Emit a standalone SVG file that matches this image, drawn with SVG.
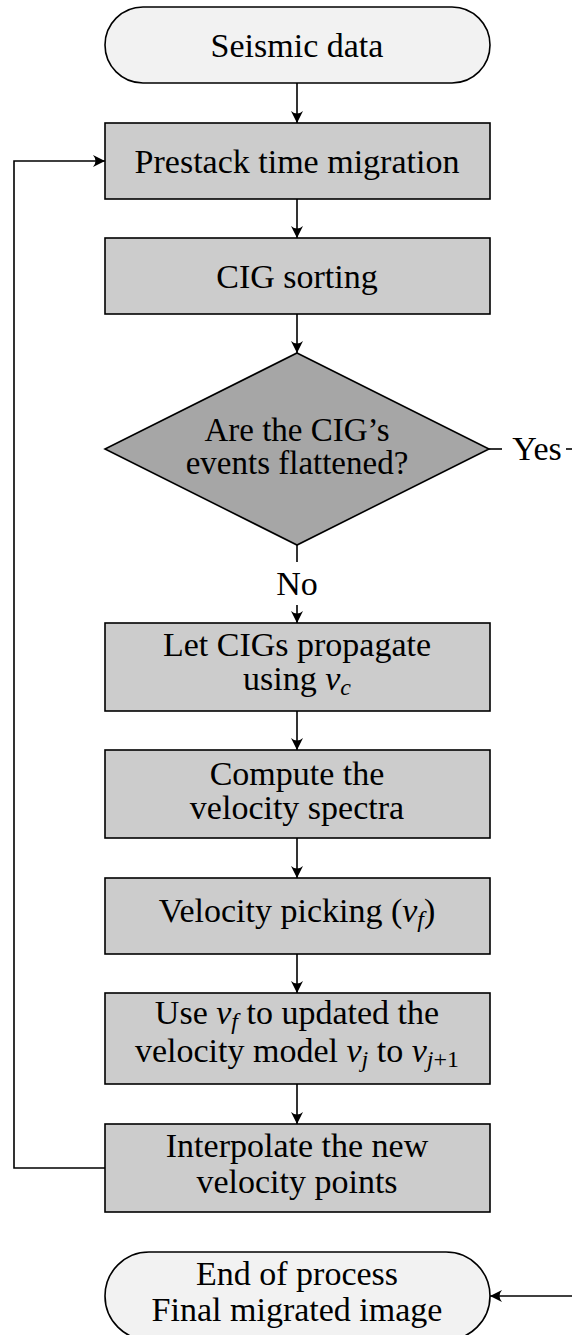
<svg xmlns="http://www.w3.org/2000/svg" width="572" height="1335" viewBox="0 0 572 1335">
<style>
.term{fill:#f2f2f2;stroke:#000;stroke-width:1.6}
.box{fill:#cccccc;stroke:#000;stroke-width:1.6}
.dec{fill:#a6a6a6;stroke:#000;stroke-width:1.6}
text{font-family:"Liberation Serif","DejaVu Serif",serif;font-size:34px;fill:#000;text-anchor:middle}
.m{font-style:italic}
.s{font-size:24px}
.sm{font-size:24px;font-style:italic}
.c{fill:none;stroke:#000;stroke-width:1.6}
</style>
<defs>
<marker id="ah" viewBox="-13 -6.5 14 13" refX="0" refY="0" markerWidth="14" markerHeight="13" markerUnits="userSpaceOnUse" orient="auto">
<path d="M0,0 L-12,-6 Q-7,0 -12,6 Z" fill="#000"/>
</marker>
</defs>
<g id="connectors">
<path class="c" d="M297,83 V123" marker-end="url(#ah)"/>
<path class="c" d="M297,199 V238" marker-end="url(#ah)"/>
<path class="c" d="M297,314 V353" marker-end="url(#ah)"/>
<path class="c" d="M297,545 V562"/>
<path class="c" d="M297,605 V623" marker-end="url(#ah)"/>
<path class="c" d="M297,711 V750" marker-end="url(#ah)"/>
<path class="c" d="M297,838 V878" marker-end="url(#ah)"/>
<path class="c" d="M297,954 V993" marker-end="url(#ah)"/>
<path class="c" d="M297,1084 V1124" marker-end="url(#ah)"/>
<path class="c" d="M105,1168 H14 V161 H105" marker-end="url(#ah)"/>
<path class="c" d="M489,449 H502"/>
<path class="c" d="M566,449 H580"/>
<path class="c" d="M580,1296 H490" marker-end="url(#ah)"/>
<text x="537" y="460">Yes</text>
<text x="297" y="595">No</text>
</g>
<g id="start">
<rect class="term" x="105" y="7" width="385" height="76" rx="38"/>
<text x="297" y="57">Seismic data</text>
</g>
<g id="prestack">
<rect class="box" x="105" y="123" width="385" height="76"/>
<text x="297" y="173">Prestack time migration</text>
</g>
<g id="cigsort">
<rect class="box" x="105" y="238" width="385" height="76"/>
<text x="297" y="288">CIG sorting</text>
</g>
<g id="decision">
<polygon class="dec" points="297,353 489,449 297,545 105,449"/>
<text x="297" y="441" style="font-size:33px">Are the CIG’s<tspan x="297" dy="33">events flattened?</tspan></text>
</g>
<g id="propagate">
<rect class="box" x="105" y="623" width="385" height="88"/>
<text x="297" y="656">Let CIGs propagate<tspan x="297" dy="34">using </tspan><tspan class="m">v</tspan><tspan class="sm" dy="5">c</tspan></text>
</g>
<g id="spectra">
<rect class="box" x="105" y="750" width="385" height="88"/>
<text x="297" y="785">Compute the<tspan x="297" dy="34">velocity spectra</tspan></text>
</g>
<g id="picking">
<rect class="box" x="105" y="878" width="385" height="76"/>
<text x="297" y="922">Velocity picking (<tspan class="m">v</tspan><tspan class="sm" dy="5">f</tspan><tspan dy="-5">)</tspan></text>
</g>
<g id="update">
<rect class="box" x="105" y="993" width="385" height="91"/>
<text x="297" y="1024">Use <tspan class="m">v</tspan><tspan class="sm" dy="5">f</tspan><tspan dy="-5"> to updated the</tspan><tspan x="297" dy="38">velocity model </tspan><tspan class="m">v</tspan><tspan class="sm" dy="5">j</tspan><tspan dy="-5"> to </tspan><tspan class="m">v</tspan><tspan class="s" dy="5"><tspan class="m">j</tspan>+1</tspan></text>
</g>
<g id="interpolate">
<rect class="box" x="105" y="1124" width="385" height="88"/>
<text x="297" y="1157">Interpolate the new<tspan x="297" dy="36">velocity points</tspan></text>
</g>
<g id="end">
<rect class="term" x="105" y="1252" width="385" height="88" rx="44"/>
<text x="297" y="1285">End of process<tspan x="297" dy="36">Final migrated image</tspan></text>
</g>
</svg>
